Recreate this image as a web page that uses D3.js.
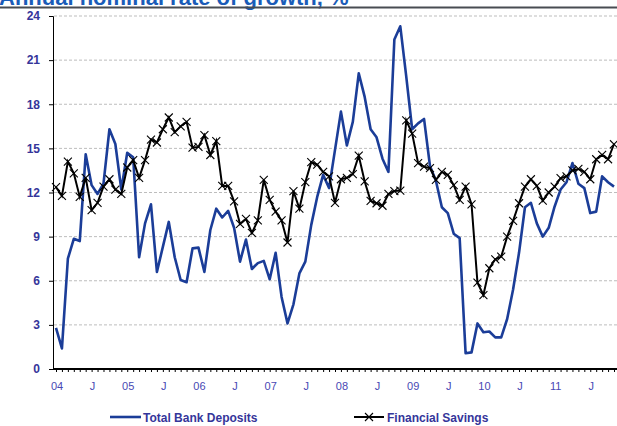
<!DOCTYPE html>
<html>
<head>
<meta charset="utf-8">
<script src="https://cdn.jsdelivr.net/npm/d3@7"></script>
<style>
  body { margin: 0; background: #fff; }
  svg { font-family: Arial, "Liberation Sans", sans-serif; }
</style>
</head>
<body>
<svg id="chart" width="617" height="426"></svg>
<script>
// months Jan 2004 .. Nov 2011
const months = d3.range(95).map(i => (2004 + Math.floor(i / 12)) + "-" + String(i % 12 + 1).padStart(2, "0"));

// tick labels, one every six months
const xLabels = ["04", "J", "05", "J", "06", "J", "07", "J", "08", "J", "09", "J", "10", "J", "11", "J"];
const yTicks = [0, 3, 6, 9, 12, 15, 18, 21, 24];

// Total Bank Deposits, % y/y
const deposits = [
  2.8, 1.4, 7.5, 8.85, 8.7, 14.6, 12.5, 11.9, 12.6, 16.3, 15.3, 12.2,
  14.7, 14.4, 7.6, 9.9, 11.2, 6.6, 8.3, 10.0, 7.6, 6.05, 5.9, 8.2,
  8.25, 6.6, 9.45, 10.9, 10.3, 10.75, 9.6, 7.3, 8.8, 6.8, 7.2, 7.35,
  6.1, 7.9, 4.9, 3.1, 4.4, 6.5, 7.3, 9.8, 11.7, 13.2, 12.3, 14.9,
  17.5, 15.2, 16.8, 20.1, 18.5, 16.3, 15.75, 14.3, 13.4, 22.4, 23.3, 19.9,
  16.3, 16.7, 17.0, 13.8, 12.8, 11.0, 10.6, 9.2, 8.9, 1.07, 1.13, 3.1,
  2.5, 2.55, 2.15, 2.15, 3.4, 5.4, 7.9, 11.0, 11.3, 9.9, 9.0, 9.6,
  11.05, 12.2, 12.7, 14.0, 12.6, 12.3, 10.6, 10.7, 13.1, 12.7, 12.4
];

// Financial Savings, % y/y
const savings = [
  12.36, 11.77, 14.1, 13.3, 11.7, 13.0, 10.8, 11.3, 12.4, 12.9, 12.2, 11.9,
  13.7, 14.2, 13.0, 14.2, 15.6, 15.4, 16.3, 17.1, 16.1, 16.5, 16.8, 15.05,
  15.1, 15.9, 14.55, 15.5, 12.45, 12.45, 11.4, 9.86, 10.2, 9.25, 10.1, 12.86,
  11.5, 10.7, 10.1, 8.6, 12.1, 10.9, 12.7, 14.06, 13.9, 13.4, 13.1, 11.3,
  12.9, 13.0, 13.25, 14.5, 12.75, 11.43, 11.27, 11.1, 11.9, 12.1, 12.13, 16.9,
  16.0, 14.0, 13.76, 13.65, 12.86, 13.4, 13.2, 12.5, 11.5, 12.4, 11.2, 5.87,
  5.03, 6.85, 7.46, 7.64, 9.0, 10.07, 11.27, 12.4, 12.9, 12.45, 11.45, 12.0,
  12.4, 12.97, 13.1, 13.5, 13.6, 13.4, 12.9, 14.26, 14.56, 14.26, 15.28
];

const svg = d3.select("#chart");

const x = d3.scalePoint().domain(months).range([56, 614]);
const y = d3.scaleLinear().domain([0, 24]).range([369, 16]);

const blue = "#1b3d98";
const labelBlue = "#35359a";

// title, cut off by the top edge like in the source
svg.append("text")
   .attr("x", -1)
   .attr("y", 5)
   .attr("font-size", 22)
   .attr("font-weight", "bold")
   .attr("fill", "#1a5cb8")
   .text("Annual nominal rate of growth, %");

svg.append("line")
   .attr("x1", 0).attr("x2", 617)
   .attr("y1", 7.5).attr("y2", 7.5)
   .attr("stroke", "#484c52")
   .attr("stroke-width", 2);

// dashed grid lines
svg.append("g")
   .selectAll("line")
   .data(yTicks.filter(d => d > 0))
   .enter().append("line")
   .attr("x1", 54).attr("x2", 617)
   .attr("y1", d => y(d)).attr("y2", d => y(d))
   .attr("stroke", "#bdbdbd")
   .attr("stroke-dasharray", "3,2");

// y axis
const yAxis = svg.append("g")
   .attr("transform", "translate(53,0)")
   .call(d3.axisLeft(y).tickValues(yTicks).tickSize(4).tickPadding(9));
yAxis.select(".domain").attr("stroke", "#000");
yAxis.selectAll(".tick line").attr("stroke", "#000");
yAxis.selectAll("text")
     .attr("font-size", 12)
     .attr("font-weight", "bold")
     .attr("fill", labelBlue)
     .attr("font-family", "Arial, 'Liberation Sans', sans-serif");

// x axis: monthly ticks
const xAxis = svg.append("g")
   .attr("transform", "translate(0,369)")
   .call(d3.axisBottom(x).tickSize(3).tickSizeOuter(0).tickFormat(""));
xAxis.select(".domain").attr("stroke", "#000").attr("stroke-width", 2)
     .attr("d", "M53,0H617");
xAxis.selectAll(".tick line").attr("stroke", "#000");

// x labels every six months
svg.append("g")
   .selectAll("text")
   .data(xLabels)
   .enter().append("text")
   .attr("x", (d, i) => x(months[i * 6]) + 1)
   .attr("y", 390)
   .attr("text-anchor", "middle")
   .attr("font-size", 11)
   .attr("fill", "#4848b4")
   .text(d => d);

// series lines
const line = d3.line()
   .x((d, i) => x(months[i]))
   .y(d => y(d));

svg.append("path")
   .datum(deposits)
   .attr("fill", "none")
   .attr("stroke", blue)
   .attr("stroke-width", 2.6)
   .attr("stroke-linejoin", "round")
   .attr("d", line);

svg.append("path")
   .datum(savings)
   .attr("fill", "none")
   .attr("stroke", "#000")
   .attr("stroke-width", 2)
   .attr("d", line);

// x markers
const cross = "M-4,-4L4,4M-4,4L4,-4";
svg.append("g")
   .selectAll("path")
   .data(savings)
   .enter().append("path")
   .attr("transform", (d, i) => "translate(" + x(months[i]) + "," + y(d) + ")")
   .attr("d", cross)
   .attr("stroke", "#000")
   .attr("stroke-width", 1.1)
   .attr("fill", "none");

// legend
const legend = svg.append("g").attr("transform", "translate(0,417)");
legend.append("line")
   .attr("x1", 110).attr("x2", 141).attr("y1", 0).attr("y2", 0)
   .attr("stroke", blue).attr("stroke-width", 2.6);
legend.append("text")
   .attr("x", 143).attr("y", 4.5)
   .attr("font-size", 12).attr("font-weight", "bold")
   .attr("fill", labelBlue)
   .text("Total Bank Deposits");
legend.append("line")
   .attr("x1", 354).attr("x2", 384).attr("y1", 0).attr("y2", 0)
   .attr("stroke", "#000").attr("stroke-width", 2);
legend.append("path")
   .attr("transform", "translate(369,0)")
   .attr("d", cross)
   .attr("stroke", "#000")
   .attr("stroke-width", 1.1)
   .attr("fill", "none");
legend.append("text")
   .attr("x", 387).attr("y", 4.5)
   .attr("font-size", 12).attr("font-weight", "bold")
   .attr("fill", labelBlue)
   .text("Financial Savings");
</script>
</body>
</html>
